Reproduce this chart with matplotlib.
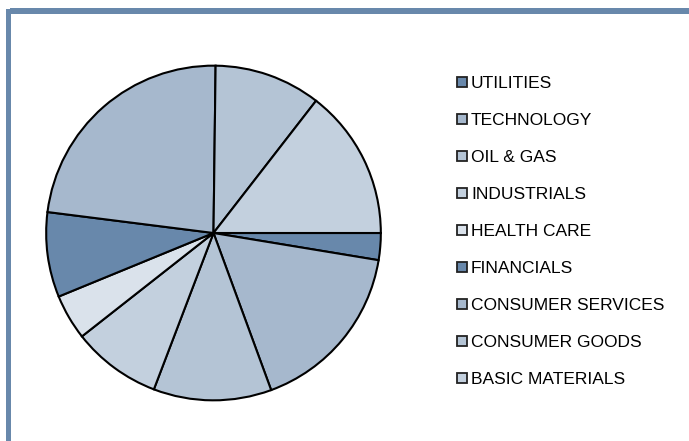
import matplotlib.pyplot as plt
from matplotlib.patches import Rectangle, Patch

plt.rcParams['font.family'] = ['Liberation Sans', 'DejaVu Sans']

sectors = ['UTILITIES', 'TECHNOLOGY', 'OIL & GAS', 'INDUSTRIALS', 'HEALTH CARE',
           'FINANCIALS', 'CONSUMER SERVICES', 'CONSUMER GOODS', 'BASIC MATERIALS']
weights = [2.6, 16.8, 11.4, 8.6, 4.4, 8.2, 23.2, 10.3, 14.5]
colors = ['#6888ab', '#a6b8cd', '#b4c4d5', '#c3d0de', '#dae2eb',
          '#6888ab', '#a6b8cd', '#b4c4d5', '#c3d0de']

W, H = 689, 441
fig = plt.figure(figsize=(W / 100, H / 100), dpi=100)

# frame lines (top and left)
border = '#6888ab'
fig.patches.append(Rectangle((10 / W, 1 - 13.5 / H), 1, 5.5 / H, transform=fig.transFigure,
                             facecolor=border, edgecolor='none'))
fig.patches.append(Rectangle((6 / W, 0), 4.7 / W, 1 - 9 / H, transform=fig.transFigure,
                             facecolor=border, edgecolor='none'))

cx, cy, r = 213.5, 233, 169
ax = fig.add_axes([(cx - r) / W, (H - cy - r) / H, 2 * r / W, 2 * r / H])
ax.pie(weights, colors=colors, startangle=0, counterclock=False, radius=1,
       wedgeprops=dict(edgecolor='black', linewidth=1.5))
ax.set_xlim(-1.01, 1.01)
ax.set_ylim(-1.01, 1.01)
ax.set_aspect('equal')
ax.axis('off')

handles = [Patch(facecolor=c, edgecolor='#222222', linewidth=1.3) for c in colors]
fig.legend(handles, sectors, loc='upper left', bbox_to_anchor=(457 / W, 1 - 76 / H),
           frameon=False, fontsize=12.5, handlelength=0.55, handleheight=0.55,
           handletextpad=0.25, labelspacing=1.27, borderaxespad=0, borderpad=0)

fig.savefig('out.png', dpi=100)
